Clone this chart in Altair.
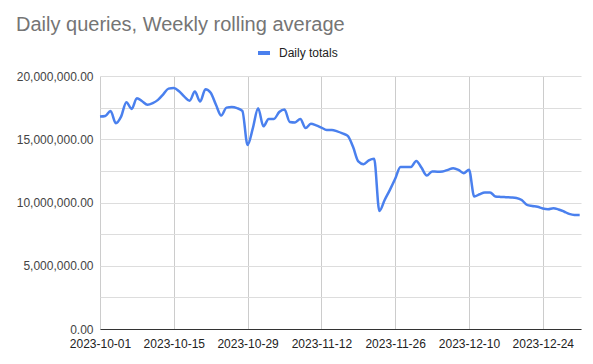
import altair as alt
import pandas as pd

start_date = "2023-10-01"
daily_totals = [
    16790000, 16840000, 17240000, 16270000, 16790000, 17930000, 17400000, 18250000,
    18000000, 17720000, 17850000, 18110000, 18550000, 19000000, 19050000, 18790000,
    18370000, 18040000, 18770000, 17980000, 18950000, 18670000, 17720000, 16870000,
    17500000, 17540000, 17460000, 17250000, 14550000, 15880000, 17460000, 16020000,
    16610000, 16610000, 17150000, 17350000, 16370000, 16330000, 16610000, 15880000,
    16220000, 16100000, 15920000, 15740000, 15740000, 15620000, 15460000, 15270000,
    14400000, 13250000, 13030000, 13330000, 13450000, 9330000, 10200000, 11000000,
    11870000, 12810000, 12810000, 12810000, 13290000, 12740000, 12130000, 12460000,
    12440000, 12460000, 12580000, 12710000, 12580000, 12320000, 12580000, 10470000,
    10650000, 10800000, 10800000, 10480000, 10440000, 10420000, 10400000, 10360000,
    10200000, 9810000, 9730000, 9670000, 9530000, 9470000, 9550000, 9450000,
    9290000, 9100000, 9020000, 9020000,
]
x_tick_labels = ["2023-10-01", "2023-10-15", "2023-10-29", "2023-11-12",
                 "2023-11-26", "2023-12-10", "2023-12-24"]
y_ticks = [0, 2500000, 5000000, 7500000, 10000000, 12500000, 15000000, 17500000, 20000000]
series_name = "Daily totals"

dates = pd.date_range(start_date, periods=len(daily_totals), freq="D")
df = pd.DataFrame({
    "date": dates.strftime("%Y-%m-%d"),
    "value": daily_totals,
    "series": series_name,
})

def to_ms(s):
    return int(pd.Timestamp(s, tz="UTC").timestamp() * 1000)

x_values = [to_ms(s) for s in x_tick_labels]
x_domain = [to_ms("2023-10-01"), to_ms("2023-12-31") + 6 * 3600 * 1000]

font = "Liberation Sans"

line = alt.Chart(df).mark_line(strokeWidth=2.5, interpolate="monotone").encode(
    x=alt.X("date:T", title=None,
            scale=alt.Scale(type="utc", domain=x_domain, nice=False),
            axis=alt.Axis(values=x_values,
                          labelExpr="utcFormat(datum.value, '%Y-%m-%d')",
                          labelFontSize=12, labelColor="#222222", labelFont=font,
                          labelPadding=9, ticks=False, domain=True, domainColor="#333333",
                          grid=True, gridColor="#cccccc", labelOverlap=False,
                          labelFlush=False)),
    y=alt.Y("value:Q", title=None,
            scale=alt.Scale(domain=[0, 20000000], nice=False),
            axis=alt.Axis(values=y_ticks,
                          labelExpr="datum.value % 5000000 === 0 ? format(datum.value, ',.2f') : ''",
                          labelFontSize=12, labelColor="#444444", labelFont=font,
                          labelPadding=7, ticks=False, domain=False,
                          grid=True, gridColor="#dddddd")),
    color=alt.Color("series:N",
                    scale=alt.Scale(domain=[series_name], range=["#4a80ee"]),
                    legend=alt.Legend(title=None, orient="none", legendX=156, legendY=-31,
                                      symbolType="stroke", symbolStrokeWidth=4,
                                      symbolSize=144, labelFontSize=12, labelFont=font,
                                      labelColor="#222222", padding=0, labelOffset=7)),
)

chart = line.properties(
    width=481,
    height=253,
    title=alt.TitleParams("Daily queries, Weekly rolling average", anchor="start",
                          frame="group", fontSize=20, font=font, fontWeight="normal",
                          color="#757575", dx=-84, offset=10),
    autosize=alt.AutoSizeParams(type="none"),
    padding={"left": 92, "top": 68, "right": 3, "bottom": 32},
).configure_view(stroke=None)

chart.save("out.html", embed_options={"renderer": "svg", "actions": False})
